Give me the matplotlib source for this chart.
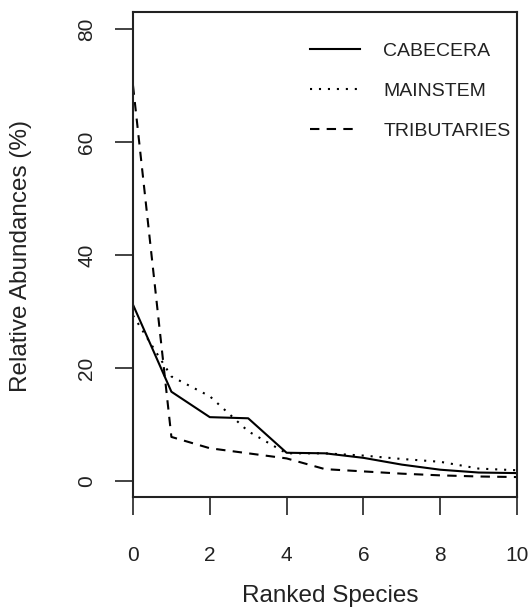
import matplotlib
matplotlib.use("Agg")
import matplotlib.pyplot as plt

plt.rcParams['font.family'] = ['Liberation Sans', 'DejaVu Sans']

ranks = [0, 1, 2, 3, 4, 5, 6, 7, 8, 9, 10]
cabecera = [31.2, 15.8, 11.3, 11.1, 5.0, 4.9, 4.1, 2.9, 2.0, 1.5, 1.4]
mainstem = [29.3, 18.5, 15.0, 8.8, 4.9, 4.9, 4.5, 3.9, 3.4, 2.2, 1.9]
tributaries = [70.0, 7.8, 5.8, 4.9, 4.0, 2.1, 1.7, 1.3, 1.0, 0.8, 0.7]

xticks = [0, 2, 4, 6, 8, 10]
yticks = [0, 20, 40, 60, 80]

fig = plt.figure(figsize=(5.29, 6.13), dpi=100)
ax = fig.add_axes([133/529, 1 - 497/613, 384/529, 485/613])

lw = 1.5
ax.plot(ranks, cabecera, color='black', lw=lw, ls='-', label='CABECERA')
ax.plot(ranks, mainstem, color='black', lw=lw, ls=(0, (1, 3.3)), label='MAINSTEM')
ax.plot(ranks, tributaries, color='black', lw=lw, ls=(0, (4.5, 3.5)), label='TRIBUTARIES')

ax.set_xlim(0, 10)
ax.set_ylim(-2.83, 83.0)
ax.set_xticks(xticks)
ax.set_yticks(yticks)
ax.set_yticklabels([str(v) for v in yticks], rotation=90, va='center', ha='right')

for s in ax.spines.values():
    s.set_linewidth(1.5)
    s.set_color('#222222')

ax.tick_params(axis='both', length=13, width=1.2, color='#222222',
               labelsize=15, labelcolor='#222222')
ax.tick_params(axis='x', pad=22)
ax.tick_params(axis='y', pad=13.5)

ax.set_xlabel("Ranked Species", fontsize=17.5, color='#222222')
ax.set_ylabel("Relative Abundances (%)", fontsize=17.5, color='#222222')
ax.xaxis.set_label_coords(0.514, -0.181)
ax.yaxis.set_label_coords(-0.263, 0.496)

ax.legend(loc='upper left', bbox_to_anchor=((310 - 133) / 384, 0.938),
          frameon=False, fontsize=14, handlelength=2.58, handletextpad=1.19,
          labelspacing=1.16, borderpad=0, borderaxespad=0, labelcolor='#222222')

fig.savefig("out.png", dpi=100)
